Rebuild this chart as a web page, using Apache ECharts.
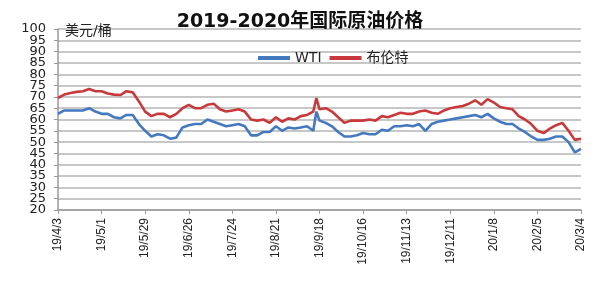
<!DOCTYPE html>
<html>
<head>
<meta charset="utf-8">
<script src="https://cdn.jsdelivr.net/npm/echarts@6/dist/echarts.min.js"></script>
<style>
html,body{margin:0;padding:0;background:#fff;}
#c{width:600px;height:282px;}
</style>
</head>
<body>
<div id="c"></div>
<script>
// Sample dates
const sampleDates = [
  '2019-04-03','2019-04-07','2019-04-11','2019-04-15','2019-04-19','2019-04-23','2019-04-27',
  '2019-05-01','2019-05-05','2019-05-09','2019-05-13','2019-05-17','2019-05-21','2019-05-25',
  '2019-05-29','2019-06-02','2019-06-06','2019-06-10','2019-06-14','2019-06-18','2019-06-22',
  '2019-06-26','2019-06-30','2019-07-04','2019-07-08','2019-07-12','2019-07-16','2019-07-20',
  '2019-07-24','2019-07-28','2019-08-01','2019-08-05','2019-08-09','2019-08-13','2019-08-17',
  '2019-08-21','2019-08-25','2019-08-29','2019-09-02','2019-09-06','2019-09-10','2019-09-14',
  '2019-09-16','2019-09-18','2019-09-22','2019-09-26','2019-09-30','2019-10-04','2019-10-08',
  '2019-10-12','2019-10-16','2019-10-20','2019-10-24','2019-10-28','2019-11-01','2019-11-05',
  '2019-11-09','2019-11-13','2019-11-17','2019-11-21','2019-11-25','2019-11-29','2019-12-03',
  '2019-12-07','2019-12-11','2019-12-15','2019-12-19','2019-12-23','2019-12-27','2019-12-31',
  '2020-01-04','2020-01-08','2020-01-12','2020-01-16','2020-01-20','2020-01-24','2020-01-28',
  '2020-02-01','2020-02-05','2020-02-09','2020-02-13','2020-02-17','2020-02-21','2020-02-25',
  '2020-02-29','2020-03-04'
];
const wtiValues = [
  62.5,64,64,64,64,65,63.5,
  62.5,62.5,61,60.5,62,62,58,
  55,52.5,53.5,53,51.5,52,56.5,
  57.5,58,58,60,59,58,57,
  57.5,58,57,53,53,54.5,54.5,
  57,55,56.5,56,56.5,57,55,
  63.5,59.5,58.5,57,54.5,52.5,52.5,
  53,54,53.5,53.5,55.5,55,57,
  57,57.5,57,58,55,58,59,
  59.5,60,60.5,61,61.5,62,61,
  62.5,60.5,59,58,58,56,54.5,
  52.5,51,51,51.5,52.5,52.5,50,
  45.5,47
];
const brentValues = [
  69.5,71,71.7,72.2,72.5,73.5,72.5,
  72.5,71.5,71,70.8,72.5,72,68,
  63.5,61.5,62.5,62.5,61,62.5,65,
  66.5,65,65,66.5,67,64.5,63.5,
  64,64.5,63.5,60,59.5,60,58.5,
  61,59,60.5,60,61.5,62,63.5,
  69.5,64.5,65,63.5,61,58.5,59.5,
  59.5,59.5,60,59.5,61.5,61,62,
  63,62.5,62.5,63.5,64,63,62.5,
  64,65,65.5,66,67,68.5,66.5,
  69,67.5,65.5,65,64.5,61.5,60,
  58,55,54,56,57.5,58.5,55,
  51,51.5
];
const yTicks = {min: 20, max: 100, step: 5};
const xLabelStepDays = 28;
const seriesNames = ['WTI', '布伦特'];
const titleText = '2019-2020年国际原油价格';
const unitText = '美元/桶';

// Build a daily category axis from first to last sample date
const DAY = 86400000;
function toUTC(s){const p=s.split('-');return Date.UTC(+p[0],+p[1]-1,+p[2]);}
const start = toUTC(sampleDates[0]);
const end = toUTC(sampleDates[sampleDates.length-1]);
const nDays = Math.round((end-start)/DAY)+1;
const categories = [];
for(let i=0;i<nDays;i++){
  const d=new Date(start+i*DAY);
  categories.push(String(d.getUTCFullYear()).slice(2)+'/'+(d.getUTCMonth()+1)+'/'+d.getUTCDate());
}
const wtiDaily = new Array(nDays).fill(null);
const brentDaily = new Array(nDays).fill(null);
sampleDates.forEach((s,k)=>{
  const idx=Math.round((toUTC(s)-start)/DAY);
  wtiDaily[idx]=wtiValues[k];
  brentDaily[idx]=brentValues[k];
});

const font = 'DejaVu Sans, Noto Sans CJK SC, sans-serif';
const axisGray = '#9a9a9a';
const chart = echarts.init(document.getElementById('c'));
chart.setOption({
  animation:false,
  title:[
    {text:titleText,left:'center',top:8,textStyle:{fontSize:19,fontWeight:'bold',color:'#111',fontFamily:font}},
    {text:unitText,left:60,top:19,textStyle:{fontSize:14,fontWeight:'normal',color:'#222',fontFamily:font}}
  ],
  legend:{
    left:253, top:46, itemWidth:32, itemHeight:4, itemGap:8,
    icon:'rect',
    textStyle:{fontSize:14,color:'#222',fontFamily:font},
    data:seriesNames
  },
  grid:{left:58,right:19,top:29,bottom:72},
  xAxis:{
    type:'category', data:categories, boundaryGap:false,
    axisLine:{lineStyle:{color:axisGray,width:1.5}},
    axisTick:{interval:xLabelStepDays-1,length:4,lineStyle:{color:axisGray}},
    axisLabel:{rotate:90, interval:xLabelStepDays-1, fontSize:12, color:'#222'},
    splitLine:{show:false}
  },
  yAxis:{
    type:'value',
    min:yTicks.min,max:yTicks.max,interval:yTicks.step,
    axisLine:{show:true,lineStyle:{color:axisGray,width:1.5}},
    axisTick:{show:true,length:4,lineStyle:{color:axisGray}},
    axisLabel:{show:false},
    splitLine:{lineStyle:{color:'#b4b4b4',width:1.5}}
  },
  series:[
    {name:seriesNames[0],type:'line',data:wtiDaily,connectNulls:true,showSymbol:false,
     lineStyle:{color:'#4479c0',width:2.6},itemStyle:{color:'#4479c0'}},
    {name:seriesNames[1],type:'line',data:brentDaily,connectNulls:true,showSymbol:false,
     lineStyle:{color:'#c8393c',width:2.6},itemStyle:{color:'#c8393c'}}
  ]
});

// Y tick labels placed through the chart's own value scale
const labels = [];
for(let v=yTicks.min; v<=yTicks.max; v+=yTicks.step){
  const p = chart.convertToPixel({gridIndex:0},[0, v]);
  labels.push({type:'text', x:p[0]-12, y:p[1], silent:true, z:10,
    style:{text:String(v), align:'right', verticalAlign:'middle',
           fontSize:13, fontFamily:font, fill:'#222'}});
}
chart.setOption({graphic:labels});
</script>
</body>
</html>
